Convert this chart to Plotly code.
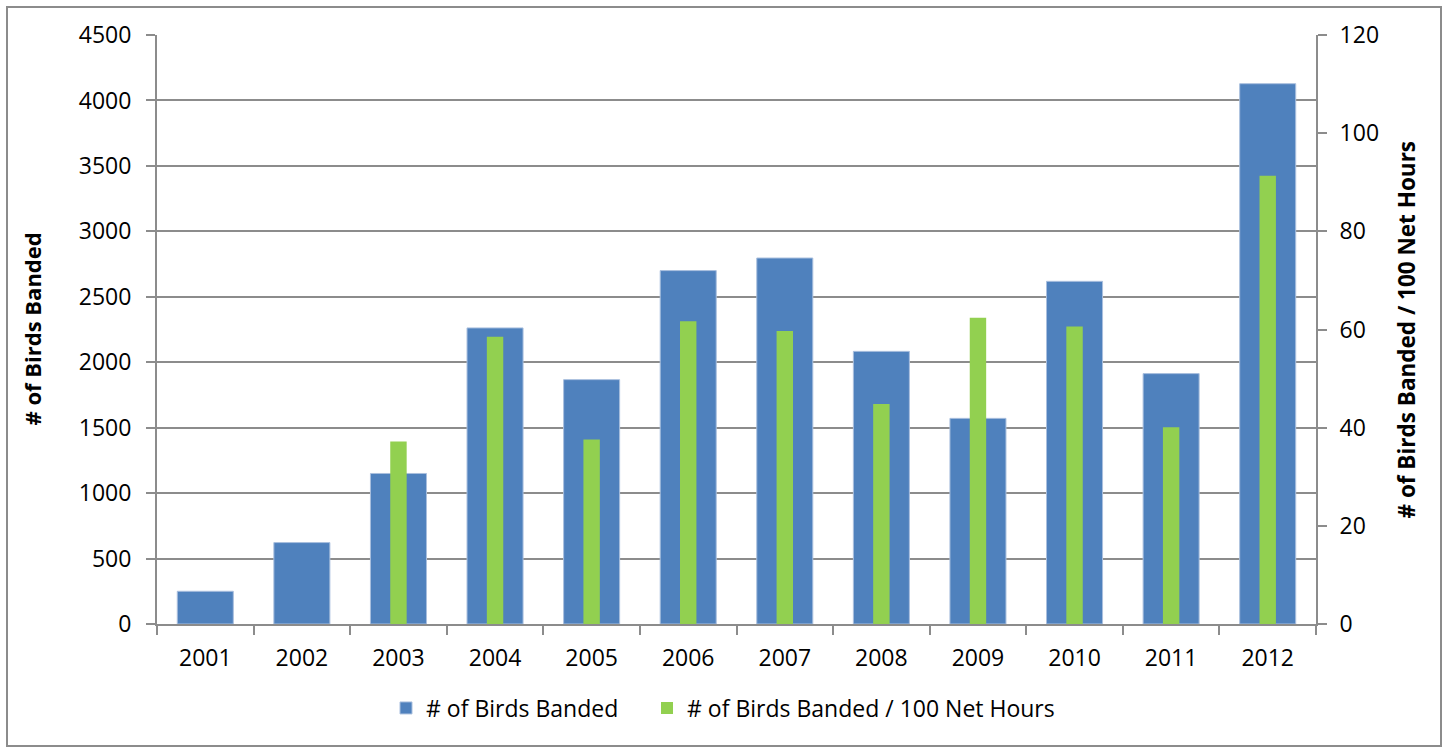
import plotly.graph_objects as go

years = ["2001", "2002", "2003", "2004", "2005", "2006", "2007", "2008", "2009", "2010", "2011", "2012"]
birds_banded = [250, 622, 1150, 2262, 1867, 2700, 2796, 2083, 1571, 2618, 1913, 4128]
per_100_net_hours = [None, None, 37.2, 58.5, 37.6, 61.7, 59.7, 44.8, 62.4, 60.6, 40.1, 91.3]

BLUE = "#4F81BD"
GREEN = "#92D050"
GRID = "#8C8C8C"
FONT = "Open Sans"

W, H = 1445, 748
ML, MR, MT, MB = 157, 129, 35, 124
pw = W - ML - MR
ph = H - MT - MB

fig = go.Figure()
fig.add_trace(go.Bar(
    x=years, y=birds_banded, name="# of Birds Banded",
    marker=dict(color=BLUE, line=dict(color="#A9BFDE", width=1)),
    width=0.58, yaxis="y", legend="legend",
))
fig.add_trace(go.Bar(
    x=years, y=per_100_net_hours, name="# of Birds Banded / 100 Net Hours",
    marker=dict(color=GREEN, line=dict(width=0)),
    width=0.17, yaxis="y2", legend="legend2",
))

tickfont = dict(family=FONT, size=23, color="#000000")
legfont = dict(family=FONT, size=23, color="#000000")
leg_y = (MT + ph - 708) / ph

fig.update_layout(
    width=W, height=H,
    margin=dict(l=ML, r=MR, t=MT, b=MB, pad=0),
    paper_bgcolor="white", plot_bgcolor="white",
    barmode="overlay",
    font=dict(family=FONT, size=23, color="#000000"),
    xaxis=dict(
        type="category", tickfont=tickfont,
        showline=True, linecolor=GRID, linewidth=2,
        ticks="outside", tickson="boundaries", ticklen=9, tickcolor=GRID, tickwidth=2,
        ticklabelstandoff=12,
        showgrid=False, zeroline=False,
    ),
    yaxis=dict(
        range=[0, 4500], tickmode="array",
        tickvals=list(range(0, 4501, 500)),
        tickfont=tickfont,
        showline=True, linecolor=GRID, linewidth=2,
        ticks="outside", ticklen=9, tickcolor=GRID, tickwidth=2,
        ticklabelstandoff=10,
        showgrid=True, gridcolor=GRID, gridwidth=1.5, zeroline=False,
    ),
    yaxis2=dict(
        range=[0, 120], tickmode="array",
        tickvals=list(range(0, 121, 20)),
        tickfont=tickfont, overlaying="y", side="right",
        showline=True, linecolor=GRID, linewidth=2,
        ticks="outside", ticklen=9, tickcolor=GRID, tickwidth=2,
        ticklabelstandoff=8,
        showgrid=False, zeroline=False,
    ),
    showlegend=True,
    legend=dict(
        orientation="h", x=(386 - ML) / pw, xanchor="left",
        y=leg_y, yanchor="middle", font=legfont,
        itemwidth=30, bgcolor="rgba(0,0,0,0)",
    ),
    legend2=dict(
        orientation="h", x=(647 - ML) / pw, xanchor="left",
        y=leg_y, yanchor="middle", font=legfont,
        itemwidth=30, bgcolor="rgba(0,0,0,0)",
    ),
)

fig.add_annotation(
    text="<b># of Birds Banded</b>", textangle=-90,
    xref="paper", yref="paper",
    x=(31 - ML) / pw, y=0.5, xanchor="center", yanchor="middle",
    showarrow=False, font=dict(family=FONT, size=22, color="#000000"),
)
fig.add_annotation(
    text="<b># of Birds Banded / 100 Net Hours</b>", textangle=-90,
    xref="paper", yref="paper",
    x=(1406 - ML) / pw, y=0.5, xanchor="center", yanchor="middle",
    showarrow=False, font=dict(family=FONT, size=22.5, color="#000000"),
)

fig.add_shape(
    type="rect", xref="paper", yref="paper",
    x0=(7 - ML) / pw, x1=(1441 - ML) / pw,
    y0=(MT + ph - 746) / ph, y1=(MT + ph - 7) / ph,
    line=dict(color="#8C8C8C", width=2), fillcolor="rgba(0,0,0,0)", layer="below",
)

fig.write_html(
    "out.html",
    config={"displayModeBar": False},
    post_script="document.body.style.margin='0';",
)
